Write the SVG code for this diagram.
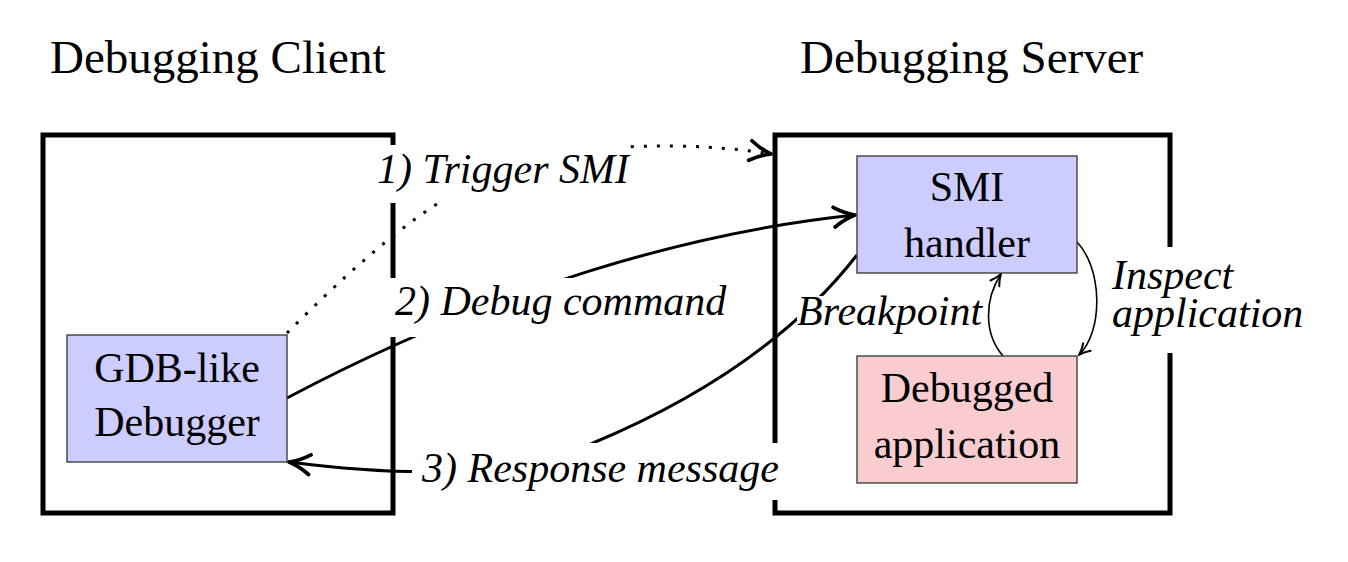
<svg xmlns="http://www.w3.org/2000/svg" width="1348" height="562" viewBox="0 0 1348 562">
<style>
  text { font-family: "Liberation Serif", "Times New Roman", serif; fill: #000; }
  .title { font-size: 47px; }
  .node { font-size: 42px; text-anchor: middle; }
  .lbl { font-size: 42px; font-style: italic; }
  .frame { fill: none; stroke: #000; stroke-width: 5; stroke-linecap: butt; stroke-linejoin: miter; }
  .box { stroke: #333; stroke-width: 1.3; }
  .blue { fill: #ccccff; }
  .pink { fill: #f9cdd0; }
  .thick { fill: none; stroke: #000; stroke-width: 3; marker-end: url(#arr); }
  .dotted { fill: none; stroke: #000; stroke-width: 3; stroke-dasharray: 3 10; marker-end: url(#arr); }
  .thin { fill: none; stroke: #000; stroke-width: 1.6; marker-end: url(#arr); }
  .bg { fill: #fff; }
</style>
<defs>
  <marker id="arr" markerUnits="strokeWidth" markerWidth="10" markerHeight="10" viewBox="-8 -5 10 10" refX="0" refY="0" orient="auto" overflow="visible">
    <path d="M-7,-3.3 C-4.5,-1.6 -1.8,-0.5 0,0 C-1.8,0.5 -4.5,1.6 -7,3.3" fill="none" stroke="#000" stroke-width="1.25" stroke-linecap="round" stroke-linejoin="round"/>
  </marker>
</defs>

<g id="client-frame">
  <path class="frame" d="M393,145 L393,135 L43,135 L43,513 L393,513 L393,337 M393,278 L393,203"/>
  <text class="title" x="50" y="73">Debugging Client</text>
</g>
<g id="server-frame">
  <path class="frame" d="M775,443 L775,135 L1170,135 L1170,247 M1170,353 L1170,513 L775,513 L775,500"/>
  <text class="title" x="800" y="73">Debugging Server</text>
</g>

<g id="connectors">
  <path id="c-trigger" class="dotted" d="M287,333 C347,273 430,195 500,172 C570,140 700,142 771,154"/>
  <path id="c-debug" class="thick" d="M287,398 C495,288 691,232 855,215"/>
  <path id="c-response" class="thick" d="M857,255 C797.4,331.5 709.3,394.5 593,443 C529.5,472 427.9,480 289,462"/>
  <path id="c-inspect" class="thin" d="M1077,242 C1102,268 1104,330 1079,355"/>
  <path id="c-breakpoint" class="thin" d="M1003,356 C984,334 984,300 1001,274"/>
</g>

<g id="labels">
  <rect class="bg" x="368" y="145" width="260" height="58"/>
  <text class="lbl" x="377" y="183">1) Trigger SMI</text>
  <rect class="bg" x="388" y="278" width="347" height="59"/>
  <text class="lbl" x="395" y="315">2) Debug command</text>
  <rect class="bg" x="412" y="443" width="373" height="57"/>
  <text class="lbl" x="422" y="482">3) Response message</text>
  <rect class="bg" x="797" y="296" width="189" height="42"/>
  <text class="lbl" x="797" y="325">Breakpoint</text>
  <text class="lbl" x="1112" y="289">Inspect</text>
  <text class="lbl" x="1112" y="327">application</text>
</g>

<g id="gdb">
  <rect class="box blue" x="67" y="335" width="220" height="127"/>
  <text class="node" x="177" y="382">GDB-like</text>
  <text class="node" x="177" y="436">Debugger</text>
</g>
<g id="smi">
  <rect class="box blue" x="857" y="156" width="220" height="117"/>
  <text class="node" x="967" y="201">SMI</text>
  <text class="node" x="967" y="257">handler</text>
</g>
<g id="app">
  <rect class="box pink" x="857" y="356" width="220" height="127"/>
  <text class="node" x="967" y="402">Debugged</text>
  <text class="node" x="967" y="458">application</text>
</g>
</svg>
